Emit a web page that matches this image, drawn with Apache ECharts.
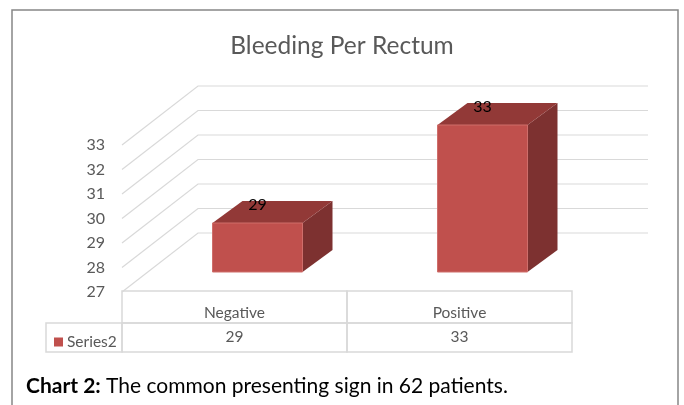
<!DOCTYPE html>
<html lang="en">

<head>
    <meta charset="UTF-8">
    <title>Bleeding Per Rectum</title>
    <script src="https://cdn.jsdelivr.net/npm/echarts@6/dist/echarts.min.js"></script>
    <style>
        html, body {
            margin: 0;
            padding: 0;
            background: #fff;
        }

        #chart {
            width: 684px;
            height: 405px;
        }
    </style>
</head>

<body>
    <div id="chart"></div>

    <script>
        // datos del grafico
        const categories = ['Negative', 'Positive'];
        const seriesName = 'Series2';
        const values = [29, 33];
        const yTicks = [27, 28, 29, 30, 31, 32, 33];
        const yMin = 27, yMax = 33;

        const fontFam = 'Lato, "Open Sans", sans-serif';
        const gray = '#595959';
        const lineCol = '#d9d9d9';

        // desplazamiento de profundidad (pared del fondo) y de las barras
        const DX = 76, DY = -59;
        const BX1 = 23, BY1 = -20;   // cara frontal de la barra
        const BX2 = 30, BY2 = -22;   // profundidad de la barra

        function renderWalls(params, api) {
            let cs = params.coordSys;
            let y = api.coord([0, api.value(1)])[1];
            let x0 = cs.x;
            return {
                type: 'polyline',
                shape: { points: [[x0, y], [x0 + DX, y + DY], [x0 + cs.width + DX, y + DY]] },
                style: { stroke: lineCol, lineWidth: 1.2, fill: null },
                silent: true
            };
        }

        function renderBar(params, api) {
            let i = api.value(0), v = api.value(1);
            let base = api.coord([i, yMin]);
            let top = api.coord([i, v]);
            let w = api.size([1, 0])[0] * 0.4;
            let x0 = base[0] - w / 2 + BX1, x1 = x0 + w;
            let yb = base[1] + BY1, yt = top[1] + BY1;
            return {
                type: 'group',
                children: [
                    {
                        type: 'polygon',
                        shape: { points: [[x1, yt], [x1 + BX2, yt + BY2], [x1 + BX2, yb + BY2], [x1, yb]] },
                        style: { fill: '#7d3130' }
                    },
                    {
                        type: 'polygon',
                        shape: { points: [[x0, yt], [x1, yt], [x1 + BX2, yt + BY2], [x0 + BX2, yt + BY2]] },
                        style: { fill: '#923937' }
                    },
                    {
                        type: 'rect',
                        shape: { x: x0, y: yt, width: w, height: yb - yt },
                        style: { fill: '#c0504d', stroke: '#cf6e6b', lineWidth: 1 }
                    },
                    {
                        type: 'text',
                        x: x0 + w / 2,
                        y: yt - 18,
                        style: {
                            text: String(v), fill: '#000', fontSize: 16, fontFamily: fontFam,
                            align: 'center', verticalAlign: 'middle'
                        }
                    }
                ]
            };
        }

        // tabla de datos bajo el grafico
        function renderTable(params, api) {
            let i = api.value(0), v = api.value(1);
            let p = api.coord([i, yMin]);
            let cw = api.size([1, 0])[0];
            let xl = p[0] - cw / 2, yt = p[1] - 1;
            let h1 = 32, h2 = 29;
            let children = [
                {
                    type: 'rect',
                    shape: { x: xl, y: yt, width: cw, height: h1 },
                    style: { fill: null, stroke: lineCol, lineWidth: 1.5 }
                },
                {
                    type: 'rect',
                    shape: { x: xl, y: yt + h1, width: cw, height: h2 },
                    style: { fill: null, stroke: lineCol, lineWidth: 1.5 }
                },
                {
                    type: 'text', x: p[0], y: yt + 22,
                    style: { text: categories[i], fill: gray, fontSize: 15.5, fontFamily: fontFam, align: 'center', verticalAlign: 'middle' }
                },
                {
                    type: 'text', x: p[0], y: yt + h1 + 14,
                    style: { text: String(v), fill: gray, fontSize: 15.5, fontFamily: fontFam, align: 'center', verticalAlign: 'middle' }
                }
            ];
            if (i === 0) {
                children.push({
                    type: 'rect',
                    shape: { x: 46, y: yt + h1, width: xl - 46, height: h2 },
                    style: { fill: null, stroke: lineCol, lineWidth: 1.5 }
                });
            }
            return { type: 'group', children: children, silent: true };
        }

        var chartDom = document.getElementById('chart');
        var myChart = echarts.init(chartDom, null, { renderer: 'canvas' });

        let option = {
            backgroundColor: '#fff',
            animation: false,
            title: {
                text: 'Bleeding Per Rectum',
                left: 'center',
                top: 29,
                textStyle: { color: gray, fontSize: 24.5, fontWeight: 'normal', fontFamily: fontFam }
            },
            legend: {
                data: [seriesName],
                left: 49,
                top: 329,
                icon: 'rect',
                itemWidth: 9,
                itemHeight: 9,
                itemGap: 4,
                selectedMode: false,
                textStyle: { color: gray, fontSize: 15.5, fontFamily: fontFam, padding: [0, 0, 0, -1] }
            },
            grid: { left: 122, right: 112, top: 145, bottom: 113, containLabel: false },
            xAxis: {
                type: 'category',
                data: categories,
                boundaryGap: true,
                axisLine: { show: false },
                axisTick: { show: false },
                axisLabel: { show: false }
            },
            yAxis: {
                type: 'value',
                min: yMin,
                max: yMax,
                interval: 1,
                axisLine: { show: false },
                axisTick: { show: false },
                splitLine: { show: false },
                axisLabel: { color: gray, fontSize: 16, fontFamily: fontFam, margin: 17 }
            },
            graphic: [
                {
                    type: 'rect',
                    shape: { x: 12, y: 10, width: 666, height: 420 },
                    style: { fill: null, stroke: '#868686', lineWidth: 1.5 },
                    silent: true
                },
                {
                    type: 'text',
                    left: 26,
                    top: 376,
                    style: {
                        text: '{b|Chart 2:} The common presenting sign in 62 patients.',
                        fontSize: 21, fontFamily: fontFam, fill: '#000',
                        rich: { b: { fontWeight: 'bold', fontSize: 21, fontFamily: fontFam, fill: '#000' } }
                    }
                }
            ],
            series: [
                {
                    name: 'walls',
                    type: 'custom',
                    renderItem: renderWalls,
                    data: yTicks.map(t => [0, t]),
                    silent: true,
                    z: 1
                },
                {
                    name: seriesName,
                    type: 'custom',
                    renderItem: renderBar,
                    itemStyle: { color: '#c0504d' },
                    data: values.map((v, i) => [i, v]),
                    z: 3
                },
                {
                    name: 'table',
                    type: 'custom',
                    renderItem: renderTable,
                    data: values.map((v, i) => [i, v]),
                    silent: true,
                    z: 2
                }
            ]
        };

        myChart.setOption(option);
    </script>
</body>

</html>
